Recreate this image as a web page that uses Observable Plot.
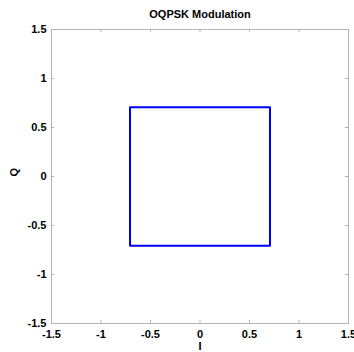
<!DOCTYPE html>
<html>
<head>
<meta charset="utf-8">
<script src="https://cdn.jsdelivr.net/npm/d3@7"></script>
<script src="https://cdn.jsdelivr.net/npm/@observablehq/plot@0.6"></script>
<style>
  html, body { margin: 0; padding: 0; background: #fff; }
</style>
</head>
<body>
<div id="chart"></div>
<script>
const title = "OQPSK Modulation";
const xLabel = "I";
const yLabel = "Q";
const tickValues = [-1.5, -1, -0.5, 0, 0.5, 1, 1.5];
const seriesI = [0.707, -0.707, -0.707, 0.707, 0.707];
const seriesQ = [0.707, 0.707, -0.707, -0.707, 0.707];

const W = 354, H = 352;
const mt = 29, mb = 29, ml = 51, mr = 6;
const fw = W - ml - mr, fh = H - mt - mb;
const tickLen = 3;
const gray = "#b4b4b4";

const pts = seriesI.map((v, i) => ({I: v, Q: seriesQ[i]}));
const fmt = d => String(d);

const chart = Plot.plot({
  width: W,
  height: H,
  marginTop: mt,
  marginBottom: mb,
  marginLeft: ml,
  marginRight: mr,
  style: {fontFamily: "'Liberation Sans', Arial, sans-serif", fontWeight: "bold", fontSize: "11px", color: "#000", background: "#fff", overflow: "visible"},
  x: {domain: [-1.5, 1.5]},
  y: {domain: [-1.5, 1.5]},
  marks: [
    Plot.frame({stroke: gray}),
    Plot.tickX(tickValues, {x: d => d, insetBottom: fh - tickLen, stroke: gray}),
    Plot.tickX(tickValues, {x: d => d, insetTop: fh - tickLen, stroke: gray}),
    Plot.tickY(tickValues, {y: d => d, insetRight: fw - tickLen, stroke: gray}),
    Plot.tickY(tickValues, {y: d => d, insetLeft: fw - tickLen, stroke: gray}),
    Plot.line(pts, {x: "I", y: "Q", stroke: "#0000ff", strokeWidth: 2}),
    Plot.axisX({ticks: tickValues, tickFormat: fmt, tickSize: 0, tickPadding: 7, label: null, fill: "#000"}),
    Plot.axisY({ticks: tickValues, tickFormat: fmt, tickSize: 0, tickPadding: 5, label: null, fill: "#000"}),
    Plot.text([title], {text: d => d, frameAnchor: "top", lineAnchor: "middle", dy: -15, fontSize: 11, fontWeight: "bold"}),
    Plot.text([xLabel], {text: d => d, frameAnchor: "bottom", lineAnchor: "middle", dy: 23, fontSize: 11, fontWeight: "bold"}),
    Plot.text([yLabel], {text: d => d, frameAnchor: "left", lineAnchor: "middle", dx: -37, rotate: -90, fontSize: 11, fontWeight: "bold"})
  ]
});
document.getElementById("chart").appendChild(chart);
</script>
</body>
</html>
